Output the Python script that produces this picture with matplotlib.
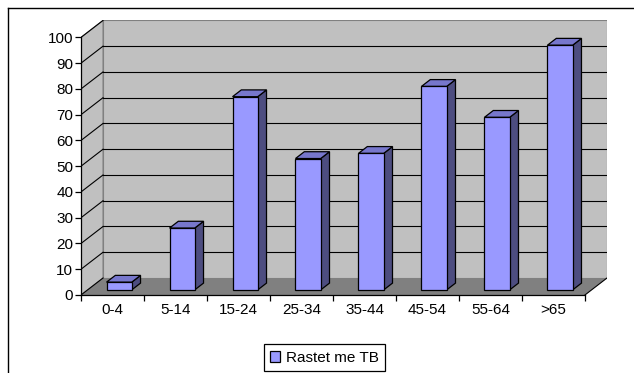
import numpy as np
import matplotlib.pyplot as plt
from matplotlib.patches import Polygon, Rectangle
from matplotlib.lines import Line2D

plt.rcParams['font.family'] = ['Liberation Sans', 'DejaVu Sans']

age_groups = ['0-4', '5-14', '15-24', '25-34', '35-44', '45-54', '55-64', '>65']
cases = [3, 24, 75, 51, 53, 79, 67, 95]
series_name = 'Rastet me TB'
y_ticks = list(range(0, 101, 10))

# depth of the pseudo-3D box, in data units
DX = 0.35
DY = 6.6
bar_w = 0.4
z0, z1 = 0.3, 0.7   # bar front/back as fraction of the depth

front_c = '#9999FF'
side_c = '#4D4D80'
top_c = '#7777CC'
wall_c = '#C0C0C0'
floor_c = '#808080'
fs = 11

W, H = 634, 373
fig = plt.figure(figsize=(W / 100, H / 100), dpi=100)
ax = fig.add_axes([81 / W, (H - 295) / H, 526 / W, 274.6 / H])
n = len(age_groups)
ax.set_xlim(0, n + DX)
ax.set_ylim(0, 100 + DY)
ax.set_facecolor('none')

# walls and floor
ax.add_patch(Polygon([(0, 0), (DX, DY), (DX, 100 + DY), (0, 100)],
                     facecolor=wall_c, edgecolor='#808080', lw=0.8, zorder=0))
ax.add_patch(Rectangle((DX, DY), n, 100, facecolor=wall_c,
                       edgecolor='#808080', lw=0.8, zorder=0))
ax.add_patch(Polygon([(0, 0), (n, 0), (n + DX, DY), (DX, DY)],
                     facecolor=floor_c, edgecolor='none', zorder=0))
ax.plot([n, n + DX], [0, DY], color='black', lw=0.8, zorder=1)

# gridlines on back and side wall
for v in y_ticks[1:-1]:
    ax.plot([DX, n + DX], [v + DY, v + DY], color='black', lw=0.8, zorder=1)
for v in y_ticks:
    ax.plot([0, DX], [v, v + DY], color='black', lw=0.8, zorder=1)

# bars
for i, v in enumerate(cases):
    x0 = i + 0.5 - bar_w / 2 + z0 * DX
    x1 = x0 + bar_w
    y0 = z0 * DY
    ddx = (z1 - z0) * DX
    ddy = (z1 - z0) * DY
    ax.add_patch(Polygon([(x1, y0), (x1 + ddx, y0 + ddy), (x1 + ddx, y0 + ddy + v), (x1, y0 + v)],
                         facecolor=side_c, edgecolor='black', lw=0.9, zorder=3))
    ax.add_patch(Polygon([(x0, y0 + v), (x1, y0 + v), (x1 + ddx, y0 + v + ddy), (x0 + ddx, y0 + v + ddy)],
                         facecolor=top_c, edgecolor='black', lw=0.9, zorder=3))
    ax.add_patch(Rectangle((x0, y0), bar_w, v, facecolor=front_c,
                           edgecolor='black', lw=0.9, zorder=4,
                           label=series_name if i == 0 else None))

# axes
for s in ['top', 'right']:
    ax.spines[s].set_visible(False)
ax.spines['left'].set_bounds(0, 100)
ax.spines['bottom'].set_bounds(0, n)
for s in ['left', 'bottom']:
    ax.spines[s].set_linewidth(0.9)
    ax.spines[s].set_zorder(5)
ax.set_yticks(y_ticks)
ax.set_xticks(np.arange(0, n + 1))
ax.set_xticklabels([])
ax.set_xticks(np.arange(n) + 0.5, minor=True)
ax.set_xticklabels(age_groups, minor=True)
ax.tick_params(axis='both', which='major', direction='out', length=4, width=0.9,
               labelsize=fs, pad=1.5)
ax.tick_params(axis='x', which='minor', length=0, labelsize=fs, pad=6)

leg = ax.legend(loc='center', bbox_to_anchor=(324.5 / W, 1 - 357.5 / H),
                bbox_transform=fig.transFigure, fontsize=fs, fancybox=False,
                framealpha=1, edgecolor='black', handlelength=0.7, handleheight=0.7,
                handletextpad=0.4, borderpad=0.4)
leg.get_frame().set_linewidth(0.9)

# outer chart frame
fig.add_artist(Line2D([8 / W, 8 / W], [0, 1 - 8 / H], color='black', lw=1))
fig.add_artist(Line2D([8 / W, 1], [1 - 8 / H, 1 - 8 / H], color='black', lw=1))

fig.savefig('out.png', dpi=100)
